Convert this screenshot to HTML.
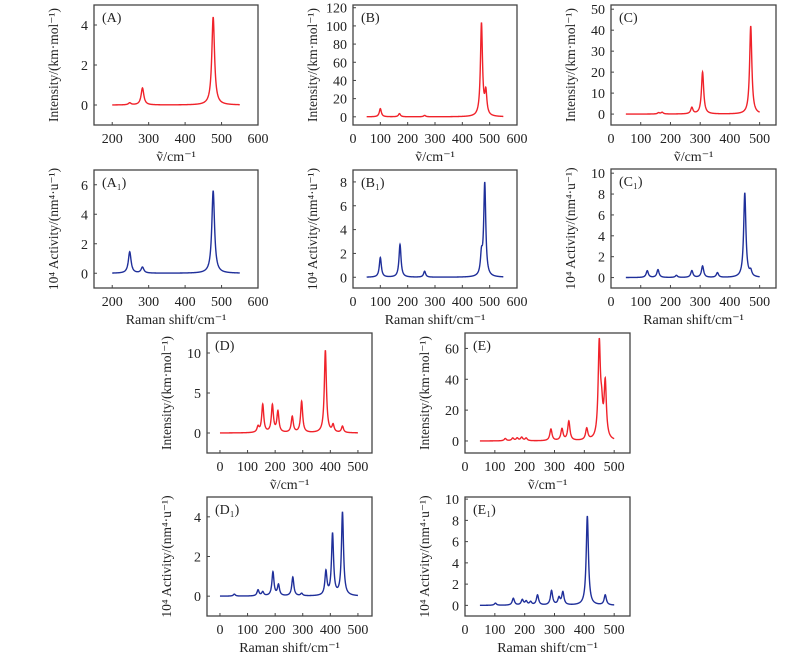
<!DOCTYPE html>
<html><head><meta charset="utf-8"><style>
body{margin:0;background:#fff;}
svg text{font-family:"Liberation Serif","DejaVu Serif",serif;fill:#222;}
</style></head><body>
<svg id="fig" width="800" height="663" viewBox="0 0 800 663" xmlns="http://www.w3.org/2000/svg"></svg>
<script>
// Peak data (position cm-1, height)
const peaksA=[[248,0.1],[283,0.85],[477,4.4]];
const peaksA1=[[248,1.45],[283,0.4],[477,5.6]];
const peaksB=[[100,9],[170,3.5],[262,1.5],[470,102],[486,25]];
const peaksB1=[[100,1.65],[172,2.75],[262,0.5],[470,1.6],[482,7.8]];
const peaksC=[[160,0.6],[172,0.8],[272,3.0],[308,20],[470,42]];
const peaksC1=[[122,0.65],[158,0.75],[220,0.2],[272,0.65],[308,1.1],[358,0.45],[450,8.1],[470,0.5]];
const peaksD=[[138,0.7],[155,3.5],[190,3.4],[210,2.6],[262,2.0],[296,3.9],[382,10.3],[410,0.9],[444,0.8]];
const peaksD1=[[52,0.1],[138,0.3],[155,0.2],[192,1.2],[212,0.55],[264,0.95],[296,0.12],[384,1.2],[408,3.1],[444,4.2]];
const peaksE=[[135,1.5],[160,1.7],[175,1.7],[190,2.2],[205,1.7],[288,7.5],[325,7.5],[348,12.5],[408,7.5],[450,61],[458,16],[470,36]];
const peaksE1=[[102,0.2],[162,0.65],[192,0.5],[205,0.35],[220,0.3],[243,0.95],[290,1.35],[315,0.65],[328,1.2],[410,8.4],[470,0.95]];
const xTicksA=[200,300,400,500,600];
const xTicks600=[0,100,200,300,400,500,600];
const xTicks500=[0,100,200,300,400,500];
const yTicksA=[0,2,4], yTicksA1=[0,2,4,6], yTicksB=[0,20,40,60,80,100,120], yTicksB1=[0,2,4,6,8];
const yTicksC=[0,10,20,30,40,50], yTicksC1=[0,2,4,6,8,10], yTicksD=[0,5,10], yTicksD1=[0,2,4];
const yTicksE=[0,20,40,60], yTicksE1=[0,2,4,6,8,10];

const NS="http://www.w3.org/2000/svg";
const svg=document.getElementById('fig');
function mk(t,a,p){const e=document.createElementNS(NS,t);for(const k in a)e.setAttribute(k,a[k]);(p||svg).appendChild(e);return e;}
const RED="#f0222a",BLUE="#1f2f9a";
const T1="Intensity/(km·mol⁻¹)", T2="10⁴ Activity/(nm⁴·u⁻¹)", X1="ṽ/cm⁻¹", X2="Raman shift/cm⁻¹";
const panels=[
 {id:'A',lab:'(A)',box:[94,5,258,125],xd:[150,600],yd:[-1,5],xt:xTicksA,yt:yTicksA,pk:peaksA,rng:[200,550],c:RED,yt1:T1,xt1:X1},
 {id:'B',lab:'(B)',box:[353,5,517,125],xd:[0,600],yd:[-9,123],xt:xTicks600,yt:yTicksB,pk:peaksB,rng:[50,550],c:RED,yt1:T1,xt1:X1},
 {id:'C',lab:'(C)',box:[611,5,776,125],xd:[0,555],yd:[-5.2,52],xt:xTicks500,yt:yTicksC,pk:peaksC,rng:[50,500],c:RED,yt1:T1,xt1:X1},
 {id:'A1',lab:'(A\u2081)',box:[94,170,258,288],xd:[150,600],yd:[-1,7],xt:xTicksA,yt:yTicksA1,pk:peaksA1,rng:[200,550],c:BLUE,yt1:T2,xt1:X2},
 {id:'B1',lab:'(B\u2081)',box:[353,170,517,288],xd:[0,600],yd:[-0.9,9],xt:xTicks600,yt:yTicksB1,pk:peaksB1,rng:[50,550],c:BLUE,yt1:T2,xt1:X2},
 {id:'C1',lab:'(C\u2081)',box:[611,169,776,288],xd:[0,555],yd:[-1,10.4],xt:xTicks500,yt:yTicksC1,pk:peaksC1,rng:[50,500],c:BLUE,yt1:T2,xt1:X2},
 {id:'D',lab:'(D)',box:[207,333,372,453],xd:[-47,551],yd:[-2.5,12.5],xt:xTicks500,yt:yTicksD,pk:peaksD,rng:[0,500],c:RED,yt1:T1,xt1:X1},
 {id:'E',lab:'(E)',box:[465,333,630,453],xd:[0,553],yd:[-7.8,70],xt:xTicks500,yt:yTicksE,pk:peaksE,rng:[50,500],c:RED,yt1:T1,xt1:X1},
 {id:'D1',lab:'(D\u2081)',box:[207,497,372,616],xd:[-47,551],yd:[-1,5],xt:xTicks500,yt:yTicksD1,pk:peaksD1,rng:[0,500],c:BLUE,yt1:T2,xt1:X2},
 {id:'E1',lab:'(E\u2081)',box:[465,497,630,616],xd:[0,553],yd:[-1,10.2],xt:xTicks500,yt:yTicksE1,pk:peaksE1,rng:[50,500],c:BLUE,yt1:T2,xt1:X2}
];
const G=4.5;
panels.forEach(p=>{
 const [x0,y0,x1,y1]=p.box;
 const g=mk('g',{});
 
 
 const sx=v=>x0+(v-p.xd[0])/(p.xd[1]-p.xd[0])*(x1-x0);
 const sy=v=>y1-(v-p.yd[0])/(p.yd[1]-p.yd[0])*(y1-y0);
 const fr=mk('rect',{x:x0,y:y0,width:x1-x0,height:y1-y0,fill:'none',stroke:'#444','stroke-width':1.3},g);
 
 
 p.xt.forEach(v=>{const x=sx(v);
  mk('line',{x1:x,x2:x,y1:y1,y2:y1-3,stroke:'#444'},g);
  const t=mk('text',{x:x,y:y1+18,'font-size':14,'text-anchor':'middle'},g);t.textContent=v;
  
  });
 p.yt.forEach(v=>{const y=sy(v);
  mk('line',{x1:x0,x2:x0+3,y1:y,y2:y,stroke:'#444'},g);
  const t=mk('text',{x:x0-6,y:y+5,'font-size':14,'text-anchor':'end'},g);t.textContent=v;
  
  });
 let d='';
 for(let v=p.rng[0];v<=p.rng[1];v+=0.5){let s=0;p.pk.forEach(([c,h])=>{const u=(v-c)/G;s+=h/(1+u*u);});
  d+=(d?'L':'M')+sx(v).toFixed(2)+','+sy(s).toFixed(2);}
 const path=mk('path',{d:d,fill:'none',stroke:p.c,'stroke-width':1.4},g);
 
 
 const lb=mk('text',{x:x0+8,y:y0+17,'font-size':14},g);lb.textContent=p.lab;
 
 
 const cy=(y0+y1)/2, tx=x0-36;
 const yt=mk('text',{x:tx,y:cy,'font-size':13.5,'text-anchor':'middle',transform:'rotate(-90 '+tx+' '+cy+')'},g);yt.textContent=p.yt1;
 
 
 const xt=mk('text',{x:(x0+x1)/2,y:y1+36,'font-size':14,'text-anchor':'middle'},g);xt.textContent=p.xt1;
 
 
});
</script>
</body></html>
